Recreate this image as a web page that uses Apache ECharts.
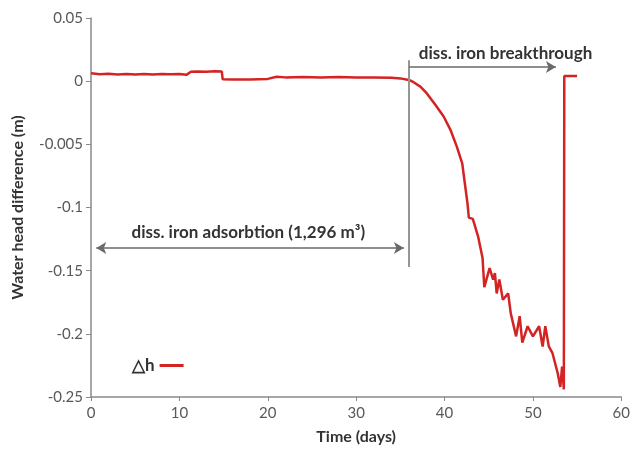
<!DOCTYPE html>
<html>
<head>
<meta charset="utf-8">
<script src="https://cdn.jsdelivr.net/npm/echarts@6/dist/echarts.min.js"></script>
<style>html,body{margin:0;padding:0;background:#fff}#c{width:633px;height:453px}</style>
</head>
<body>
<div id="c"></div>
<script>
// ---- data ----
var days = [0,1,2,3,4,5,6,7,8,9,10,10.8,11.3,12,13,14,14.8,14.9,16,18,20,21,22,24,26,28,30,32,34,35,35.8,
  36.2,36.5,37.3,38.0,39.0,39.9,40.7,41.4,42.0,42.3,42.6,42.75,43.2,43.8,44.3,44.5,45.1,45.5,45.7,45.9,46.2,46.6,47.2,47.5,48.1,48.5,48.8,49.4,50.0,50.7,51.1,51.4,51.8,52.2,52.8,53.1,53.3,53.5,53.55,55.0];
var headDiff = [0.0062,0.0055,0.0058,0.0053,0.0057,0.0052,0.0056,0.0053,0.0057,0.0054,0.0056,0.0050,0.0074,0.0077,0.0075,0.0078,0.0076,0.0015,0.0013,0.0014,0.0018,0.0035,0.0030,0.0033,0.0030,0.0032,0.0029,0.0030,0.0027,0.0022,0.0012,
  0.0003,-0.0008,-0.0045,-0.0097,-0.019,-0.028,-0.039,-0.052,-0.065,-0.081,-0.097,-0.108,-0.109,-0.123,-0.140,-0.163,-0.148,-0.157,-0.152,-0.168,-0.157,-0.173,-0.168,-0.184,-0.202,-0.186,-0.207,-0.194,-0.202,-0.194,-0.210,-0.194,-0.210,-0.215,-0.231,-0.242,-0.226,-0.244,0.004,0.004];
var yTickLabels = ['-0.25','-0.2','-0.15','-0.1','-0.005','0','0.05'];
var seriesName = '\u25B3h';
var annotationTexts = ['diss. iron breakthrough', 'diss. iron adsorbtion (1,296 m\u00B3)'];
// annotation anchors in data units [day, value]
var dividerLine = [[36, 0.0166], [36, -0.147]];
var breakthroughArrow = [[36, 0.0113], [52.6, 0.0113]];
var adsorbtionArrow = [[0.6, -0.132], [35.4, -0.132]];
var textAnchors = [[46.9, 0.0222], [17.8, -0.120]];

var points = days.map(function (d, i) { return [d, headDiff[i]]; });
var yMin = -0.25, yStep = 0.05;

var chart = echarts.init(document.getElementById('c'), null, {renderer: 'canvas'});
var font = 'Lato, "Open Sans", sans-serif';
chart.setOption({
  animation: false,
  backgroundColor: '#ffffff',
  textStyle: {fontFamily: font},
  grid: {left: 91, right: 7, top: 18, bottom: 56, containLabel: false},
  legend: {
    data: [seriesName], left: 127, top: 352, align: 'right', itemGap: 4,
    icon: 'rect', itemWidth: 24, itemHeight: 3,
    textStyle: {fontFamily: font, fontSize: 17, fontWeight: 'bold', color: '#333'}
  },
  xAxis: {
    type: 'value', min: 0, max: 60, interval: 10,
    name: 'Time (days)', nameLocation: 'middle', nameGap: 32,
    nameTextStyle: {fontFamily: font, fontSize: 16, fontWeight: 'bold', color: '#333'},
    axisLine: {onZero: false, lineStyle: {color: '#8a8a8a', width: 1.5}},
    axisTick: {show: true, length: 4, lineStyle: {color: '#8a8a8a'}},
    axisLabel: {fontFamily: font, fontSize: 15, color: '#595959', margin: 9},
    splitLine: {show: false}
  },
  yAxis: {
    type: 'value', min: yMin, max: 0.05, interval: yStep,
    name: 'Water head difference (m)', nameLocation: 'middle', nameGap: 65,
    nameTextStyle: {fontFamily: font, fontSize: 16, fontWeight: 'bold', color: '#333'},
    axisLine: {show: true, onZero: false, lineStyle: {color: '#8a8a8a', width: 1.5}},
    axisTick: {show: true, length: 5, lineStyle: {color: '#8a8a8a'}},
    axisLabel: {
      fontFamily: font, fontSize: 15, color: '#595959', margin: 8,
      formatter: function (v) { return yTickLabels[Math.round((v - yMin) / yStep)]; }
    },
    splitLine: {show: false}
  },
  series: [{
    name: seriesName, type: 'line', data: points, showSymbol: false,
    lineStyle: {color: '#d42323', width: 2.5}, itemStyle: {color: '#d42323'},
    markLine: {
      silent: true, animation: false,
      symbolSize: [9, 10],
      label: {show: false},
      lineStyle: {color: '#6a6a6a', width: 1.5, type: 'solid'},
      data: [
        [{coord: dividerLine[0], symbol: 'none', lineStyle: {color: '#959595', width: 2}}, {coord: dividerLine[1], symbol: 'none'}],
        [{coord: breakthroughArrow[0], symbol: 'none'}, {coord: breakthroughArrow[1], symbol: 'arrow'}],
        [{coord: adsorbtionArrow[0], symbol: 'arrow'}, {coord: adsorbtionArrow[1], symbol: 'arrow'}]
      ]
    },
    markPoint: {
      silent: true, animation: false, symbol: 'circle', symbolSize: 0,
      label: {show: true, position: 'inside', fontFamily: font, fontSize: 17, fontWeight: 'bold', color: '#333'},
      data: textAnchors.map(function (c, i) {
        return {coord: c, label: {formatter: annotationTexts[i]}};
      })
    }
  }]
});
</script>
</body>
</html>
